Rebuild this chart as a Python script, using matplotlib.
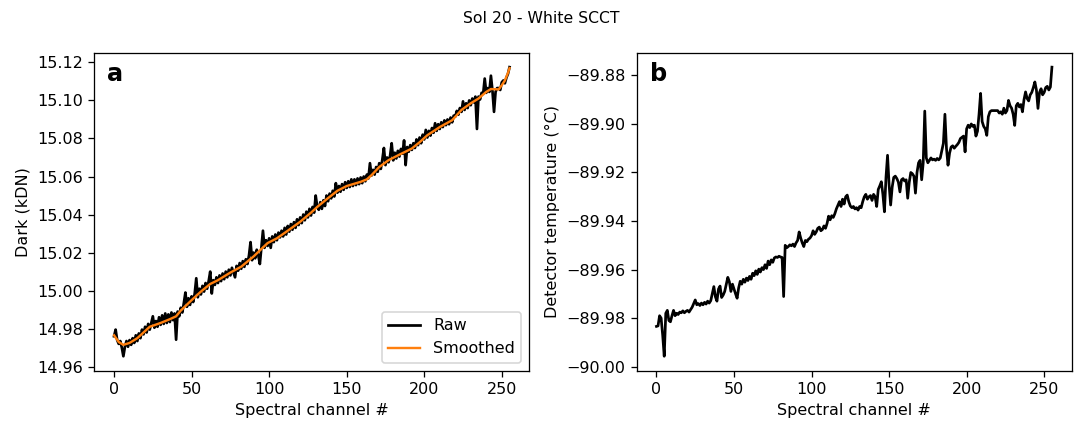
import matplotlib
matplotlib.use("Agg")
import matplotlib.pyplot as plt
import matplotlib.ticker as mticker
import numpy as np

channels = np.arange(256)

dark_raw = [
    14.9760, 14.9795, 14.9740, 14.9720, 14.9735, 14.9700, 14.9655, 14.9705,
    14.9735, 14.9705, 14.9740, 14.9715, 14.9750, 14.9725, 14.9765, 14.9735,
    14.9775, 14.9750, 14.9795, 14.9770, 14.9810, 14.9780, 14.9825, 14.9795,
    14.9830, 14.9865, 14.9805, 14.9840, 14.9810, 14.9860, 14.9820, 14.9870,
    14.9825, 14.9880, 14.9830, 14.9875, 14.9835, 14.9885, 14.9845, 14.9880,
    14.9742, 14.9890, 14.9865, 14.9910, 14.9885, 14.9935, 14.9990, 14.9915,
    14.9960, 14.9925, 14.9970, 14.9940, 14.9985, 15.0065, 14.9965, 15.0010,
    14.9980, 15.0025, 14.9995, 15.0040, 15.0010, 15.0050, 15.0100, 14.9985,
    15.0055, 15.0030, 15.0070, 15.0040, 15.0080, 15.0050, 15.0090, 15.0060,
    15.0100, 15.0070, 15.0110, 15.0080, 15.0120, 15.0095, 15.0070, 15.0130,
    15.0105, 15.0145, 15.0115, 15.0155, 15.0125, 15.0165, 15.0140, 15.0185,
    15.0255, 15.0160, 15.0200, 15.0170, 15.0215, 15.0185, 15.0140, 15.0225,
    15.0315, 15.0225, 15.0265, 15.0235, 15.0275, 15.0225, 15.0285, 15.0255,
    15.0295, 15.0265, 15.0305, 15.0280, 15.0315, 15.0285, 15.0330, 15.0295,
    15.0340, 15.0310, 15.0350, 15.0320, 15.0360, 15.0330, 15.0375, 15.0345,
    15.0385, 15.0355, 15.0400, 15.0370, 15.0415, 15.0385, 15.0430, 15.0395,
    15.0440, 15.0410, 15.0500, 15.0440, 15.0425, 15.0465, 15.0430, 15.0475,
    15.0445, 15.0500, 15.0470, 15.0510, 15.0485, 15.0525, 15.0495, 15.0565,
    15.0515, 15.0550, 15.0520, 15.0560, 15.0530, 15.0570, 15.0540, 15.0575,
    15.0545, 15.0585, 15.0550, 15.0585, 15.0555, 15.0590, 15.0560, 15.0595,
    15.0565, 15.0600, 15.0575, 15.0610, 15.0590, 15.0670, 15.0605, 15.0635,
    15.0610, 15.0650, 15.0625, 15.0670, 15.0640, 15.0690, 15.0750, 15.0660,
    15.0700, 15.0675, 15.0710, 15.0775, 15.0685, 15.0725, 15.0695, 15.0735,
    15.0705, 15.0745, 15.0720, 15.0790, 15.0660, 15.0755, 15.0730, 15.0765,
    15.0740, 15.0775, 15.0750, 15.0795, 15.0765, 15.0805, 15.0775, 15.0820,
    15.0795, 15.0845, 15.0805, 15.0840, 15.0815, 15.0855, 15.0830, 15.0880,
    15.0840, 15.0875, 15.0850, 15.0885, 15.0860, 15.0895, 15.0870, 15.0900,
    15.0875, 15.0910, 15.0885, 15.0920, 15.0915, 15.0945, 15.0925, 15.0960,
    15.0940, 15.0995, 15.0950, 15.0985, 15.0960, 15.1000, 15.0975, 15.1010,
    15.0990, 15.1020, 15.0850, 15.1020, 15.1005, 15.1040, 15.1035, 15.1115,
    15.1040, 15.1065, 15.1045, 15.1130, 15.1050, 15.0940, 15.1045, 15.1065,
    15.1065, 15.1055, 15.1095, 15.1105, 15.1090, 15.1120, 15.1140, 15.1175,
]

smooth_channels = [0, 3, 6, 10, 15, 23, 30, 36, 40, 43, 50, 56, 62, 67, 75,
                   82, 90, 99, 105, 112, 120, 127, 131, 137, 144, 150, 159,
                   163, 166, 171, 177, 184, 192, 197, 202, 210, 218, 224, 230,
                   235, 240, 243, 248, 250, 252, 254, 255]
dark_smooth = [14.9765, 14.9730, 14.9715, 14.9725, 14.9750, 14.9810, 14.9830,
               14.9850, 14.9865, 14.9895, 14.9950, 14.9995, 15.0035, 15.0055,
               15.0095, 15.0126, 15.0180, 15.0250, 15.0275, 15.0315, 15.0362,
               15.0410, 15.0440, 15.0480, 15.0525, 15.0550, 15.0572, 15.0585,
               15.0607, 15.0650, 15.0686, 15.0715, 15.0747, 15.0780, 15.0817,
               15.0860, 15.0896, 15.0950, 15.0985, 15.1010, 15.1045, 15.1060,
               15.1058, 15.1080, 15.1105, 15.1145, 15.1170]

det_temp = [
    -89.9834, -89.9832, -89.9790, -89.9800, -89.9870, -89.9957, -89.9780, -89.9768,
    -89.9810, -89.9815, -89.9790, -89.9768, -89.9790, -89.9780, -89.9785, -89.9775,
    -89.9778, -89.9770, -89.9778, -89.9772, -89.9768, -89.9775, -89.9765, -89.9755,
    -89.9740, -89.9725, -89.9745, -89.9740, -89.9748, -89.9738, -89.9745, -89.9735,
    -89.9742, -89.9730, -89.9738, -89.9728, -89.9700, -89.9670, -89.9712, -89.9730,
    -89.9680, -89.9668, -89.9715, -89.9705, -89.9690, -89.9660, -89.9632, -89.9650,
    -89.9690, -89.9660, -89.9680, -89.9700, -89.9718, -89.9675, -89.9648, -89.9660,
    -89.9640, -89.9652, -89.9635, -89.9645, -89.9628, -89.9640, -89.9615, -89.9625,
    -89.9605, -89.9620, -89.9598, -89.9610, -89.9592, -89.9600, -89.9580, -89.9595,
    -89.9565, -89.9580, -89.9560, -89.9570, -89.9552, -89.9548, -89.9550, -89.9545,
    -89.9548, -89.9550, -89.9711, -89.9500, -89.9510, -89.9505, -89.9498, -89.9502,
    -89.9495, -89.9505, -89.9490, -89.9480, -89.9445, -89.9470, -89.9490, -89.9505,
    -89.9480, -89.9485, -89.9475, -89.9470, -89.9460, -89.9440, -89.9455, -89.9445,
    -89.9430, -89.9425, -89.9440, -89.9435, -89.9420, -89.9430, -89.9410, -89.9380,
    -89.9395, -89.9378, -89.9385, -89.9370, -89.9350, -89.9335, -89.9320, -89.9340,
    -89.9310, -89.9330, -89.9300, -89.9293, -89.9320, -89.9338, -89.9345, -89.9340,
    -89.9350, -89.9345, -89.9355, -89.9340, -89.9345, -89.9320, -89.9300, -89.9290,
    -89.9310, -89.9300, -89.9295, -89.9315, -89.9290, -89.9300, -89.9340, -89.9270,
    -89.9255, -89.9238, -89.9290, -89.9362, -89.9220, -89.9129, -89.9250, -89.9334,
    -89.9260, -89.9220, -89.9215, -89.9225, -89.9240, -89.9280, -89.9230, -89.9225,
    -89.9235, -89.9230, -89.9306, -89.9240, -89.9200, -89.9205, -89.9215, -89.9285,
    -89.9200, -89.9160, -89.9150, -89.9230, -89.9160, -89.8947, -89.9140, -89.9160,
    -89.9150, -89.9140, -89.9148, -89.9145, -89.9150, -89.9142, -89.9148, -89.9140,
    -89.9110, -89.9080, -89.8960, -89.9100, -89.9170, -89.9120, -89.9095, -89.9090,
    -89.9100, -89.9092, -89.9085, -89.9076, -89.9060, -89.9055, -89.9050, -89.9115,
    -89.9020, -89.9005, -89.9015, -89.9000, -89.9010, -89.9005, -89.9050, -89.9030,
    -89.8960, -89.8874, -89.8990, -89.9010, -89.9020, -89.9047, -89.8970, -89.8950,
    -89.8945, -89.8945, -89.8945, -89.8945, -89.8945, -89.8955, -89.8950, -89.8960,
    -89.8935, -89.8955, -89.8945, -89.8903, -89.8925, -89.8935, -89.8960, -89.9006,
    -89.8925, -89.8915, -89.8930, -89.8920, -89.8950, -89.8900, -89.8868, -89.8895,
    -89.8905, -89.8880, -89.8870, -89.8850, -89.8827, -89.8860, -89.8936, -89.8870,
    -89.8855, -89.8880, -89.8870, -89.8850, -89.8845, -89.8860, -89.8848, -89.8766,
]

x_ticks = [0, 50, 100, 150, 200, 250]
dark_ticks = [14.96, 14.98, 15.00, 15.02, 15.04, 15.06, 15.08, 15.10, 15.12]
temp_ticks = [-90.00, -89.98, -89.96, -89.94, -89.92, -89.90, -89.88]

DPI = 115
W, H = 1082, 424
fig = plt.figure(figsize=(W / DPI, H / DPI), dpi=DPI)
ax1 = fig.add_axes([94.3 / W, 1 - 370.7 / H, 435 / W, 318 / H])
ax2 = fig.add_axes([636.7 / W, 1 - 370.7 / H, 435 / W, 318 / H])

ax1.plot(channels, dark_raw, color="black", lw=1.7, label="Raw")
ax1.plot(smooth_channels, dark_smooth, color="#ff7f0e", lw=1.5, label="Smoothed")
ax1.set_xlabel("Spectral channel #")
ax1.set_ylabel("Dark (kDN)")
ax1.set_yticks(dark_ticks)
ax1.yaxis.set_major_formatter(mticker.FormatStrFormatter("%.2f"))
ax1.legend(loc="lower right")
ax1.text(0.03, 0.97, "a", transform=ax1.transAxes, fontsize=15,
         fontweight="bold", va="top", ha="left")

ax2.plot(channels, det_temp, color="black", lw=1.7)
ax2.set_xlabel("Spectral channel #")
ax2.set_ylabel("Detector temperature (°C)")
ax2.set_yticks(temp_ticks)
ax2.yaxis.set_major_formatter(mticker.FuncFormatter(
    lambda v, p: ("\u2212%.2f" % abs(v)) if v < 0 else "%.2f" % v))
ax2.text(0.03, 0.97, "b", transform=ax2.transAxes, fontsize=15,
         fontweight="bold", va="top", ha="left")

for ax in (ax1, ax2):
    ax.set_xticks(x_ticks)

fig.suptitle("Sol 20 - White SCCT", y=0.975, fontsize=9.8)
fig.savefig("out.png", dpi=DPI)
